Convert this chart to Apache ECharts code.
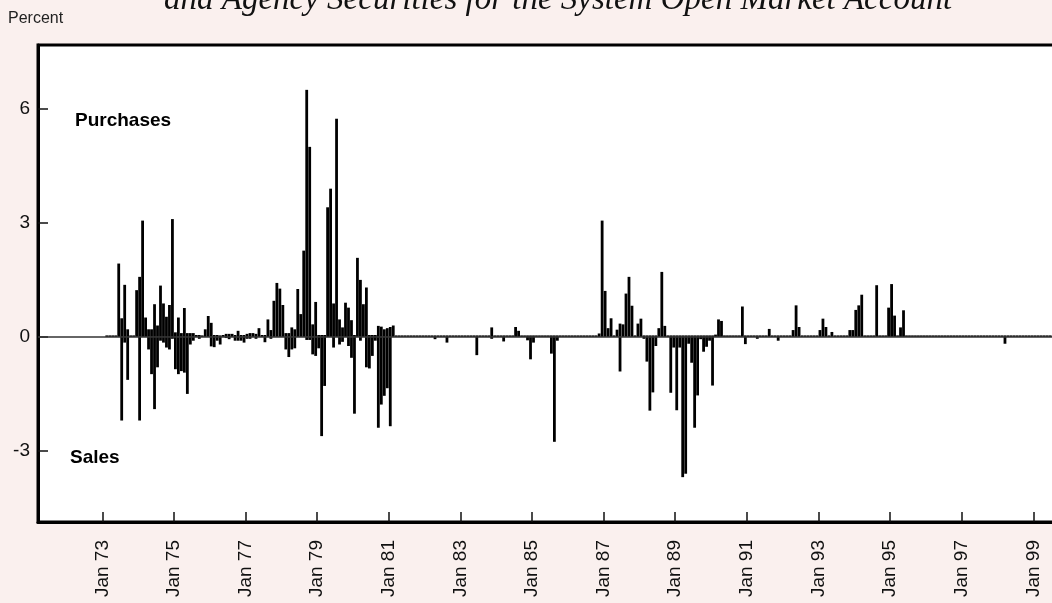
<!DOCTYPE html>
<html>
<head>
<meta charset="utf-8">
<style>
  html, body { margin: 0; padding: 0; background: #faf0ee; }
  #chart { width: 1052px; height: 603px; }
</style>
<script src="https://cdn.jsdelivr.net/npm/echarts@6/dist/echarts.min.js"></script>
</head>
<body>
<div id="chart"></div>
<script>
// monthly values, one row per year starting Jan 1973 (percent)
const startYear = 1973;

const purchases = [
  [0, .04, .04, .04, .04, 1.93, .49, 1.37, .2, .04, .04, 1.23],     // 1973
  [1.58, 3.06, .51, .2, .2, .86, .3, 1.35, .88, .53, .84, 3.1],     // 1974
  [.12, .51, .1, .76, .1, .1, .1, .05, .05, .04, .2, .55],          // 1975
  [.37, .05, .05, .04, .05, .08, .08, .08, .05, .16, .05, .05],     // 1976
  [.08, .1, .1, .08, .23, .05, .05, .46, .18, .95, 1.42, 1.27],     // 1977
  [.84, .1, .1, .25, .2, 1.26, .6, 2.27, 6.5, 5.0, .33, .92],       // 1978
  [.05, .05, .05, 3.41, 3.9, .88, 5.74, .46, .25, .9, .77, .44],    // 1979
  [.05, 2.08, 1.5, .86, 1.3, .05, .05, .05, .29, .27, .2, .23],     // 1980
  [.26, .3, .04, .04, .04, .04, .04, .04, .04, .04, .04, .04],      // 1981
  [.04, .04, .04, .04, .04, .04, .04, .04, .04, .04, .04, .04],     // 1982
  [.04, .04, .04, .04, .04, .04, .04, .04, .04, .04, .25, .04],     // 1983
  [.04, .04, .04, .04, .04, .04, .26, .16, .04, .04, .04, .04],     // 1984
  [.04, .04, .04, .04, .04, .04, .04, .04, .04, .04, .04, .04],     // 1985
  [.04, .04, .04, .04, .04, .04, .04, .04, .04, .04, .09, 3.06],    // 1986
  [1.21, .23, .49, .04, .19, .35, .33, 1.14, 1.58, .82, .04, .35],  // 1987
  [.48, .04, .04, .04, .04, .04, .23, 1.71, .29, .04, .04, .04],    // 1988
  [.04, .04, .04, .04, .04, .04, .04, .04, .04, .04, .04, .04],     // 1989
  [.04, .06, .46, .42, .04, .04, .04, .04, .04, .04, .8, .04],      // 1990
  [.04, .04, .04, .04, .04, .04, .04, .21, .04, .04, .04, .04],     // 1991
  [.04, .04, .04, .18, .83, .26, .04, .04, .04, .04, .04, .04],     // 1992
  [.18, .48, .26, .04, .13, .04, .04, .04, .04, .04, .18, .18],     // 1993
  [.71, .83, 1.11, .04, .04, .04, .04, 1.36, .04, .04, .04, .77],   // 1994
  [1.39, .56, .04, .25, .7, .04, .04, .04, .04, .04, .04, .04],     // 1995
  [.04, .04, .04, .04, .04, .04, .04, .04, .04, .04, .04, .04],     // 1996
  [.04, .04, .04, .04, .04, .04, .04, .04, .04, .04, .04, .04],     // 1997
  [.04, .04, .04, .04, .04, .04, .04, .04, .04, .04, .04, .04],     // 1998
  [.04, .04, .04, .04, .04, .04, .04, .04]                          // 1999
];

const sales = [
  [0, 0, 0, 0, 0, 0, -2.2, -.15, -1.13, 0, 0, 0],                    // 1973
  [-2.2, 0, 0, -.33, -.98, -1.9, -.8, -.1, -.15, -.28, -.33, -.05],  // 1974
  [-.85, -.98, -.9, -.94, -1.5, -.2, -.1, 0, -.05, 0, 0, 0],         // 1975
  [-.25, -.27, -.1, -.2, 0, -.03, -.06, 0, -.1, -.1, -.1, -.15],     // 1976
  [-.05, -.05, 0, -.05, 0, 0, -.14, 0, -.05, 0, 0, 0],               // 1977
  [0, -.33, -.53, -.33, -.3, 0, 0, 0, -.08, -.08, -.46, -.5],        // 1978
  [-.3, -2.61, -1.29, 0, 0, -.28, 0, -.2, -.13, 0, -.24, -.55],      // 1979
  [-2.02, 0, -.1, 0, -.8, -.83, -.5, -.1, -2.39, -1.78, -1.55, -1.35], // 1980
  [-2.35, 0, 0, 0, 0, 0, 0, 0, 0, 0, 0, 0],                          // 1981
  [0, 0, 0, -.06, 0, 0, 0, -.15, 0, 0, 0, 0],                        // 1982
  [0, 0, 0, 0, 0, -.48, 0, 0, 0, 0, -.05, 0],                        // 1983
  [0, 0, -.12, 0, 0, 0, 0, 0, 0, 0, -.09, -.59],                     // 1984
  [-.15, 0, 0, 0, 0, 0, -.44, -2.76, -.1, 0, 0, 0],                  // 1985
  [0, 0, 0, 0, 0, 0, 0, 0, 0, 0, 0, 0],                              // 1986
  [0, 0, 0, 0, 0, -.91, 0, 0, 0, 0, 0, 0],                           // 1987
  [0, -.05, -.65, -1.94, -1.46, -.24, 0, 0, 0, 0, -1.47, -.28],      // 1988
  [-1.93, -.28, -3.69, -3.6, -.18, -.68, -2.39, -1.54, -.06, -.39, -.26, -.1], // 1989
  [-1.28, 0, 0, 0, 0, 0, 0, 0, 0, 0, 0, -.19],                       // 1990
  [0, 0, 0, -.05, 0, 0, 0, 0, 0, 0, -.1, 0],                         // 1991
  [0, 0, 0, 0, 0, 0, 0, 0, 0, 0, 0, 0],                              // 1992
  [0, 0, 0, 0, 0, 0, 0, 0, 0, 0, 0, 0],                              // 1993
  [0, 0, 0, 0, 0, 0, 0, 0, 0, 0, 0, 0],                              // 1994
  [0, 0, 0, 0, 0, 0, 0, 0, 0, 0, 0, 0],                              // 1995
  [0, 0, 0, 0, 0, 0, 0, 0, 0, 0, 0, 0],                              // 1996
  [0, 0, 0, 0, 0, 0, 0, 0, 0, 0, 0, 0],                              // 1997
  [0, 0, -.18, 0, 0, 0, 0, 0, 0, 0, 0, 0],                           // 1998
  [0, 0, 0, 0, 0, 0, 0, 0]                                           // 1999
];

const yTicks = [-3, 0, 3, 6];
const xTickYears = [1973, 1975, 1977, 1979, 1981, 1983, 1985, 1987, 1989, 1991, 1993, 1995, 1997, 1999];

// x = months since Jan 1973, bar drawn in the middle of its month
const toPoints = rows =>
  rows.flatMap((row, y) => row.map((v, i) => [y * 12 + i + 0.5, v]));

const xTicks = xTickYears.map(y => (y - startYear) * 12);

const chart = echarts.init(document.getElementById("chart"));

// plot runs past the right edge of the page, so its right border is not seen
chart.setOption({
  backgroundColor: "#faf0ee",
  animation: false,
  textStyle: { fontFamily: "Liberation Sans, Arial, sans-serif" },
  grid: {
    left: 38,
    width: 1020,
    top: 45,
    bottom: 81,
    outerBoundsMode: "none",
    containLabel: false,
    show: true,
    backgroundColor: "#fff",
    borderColor: "#000",
    borderWidth: 3,
  },
  graphic: [
    {
      type: "text",
      left: 164,
      top: -16,
      style: {
        text: "and Agency Securities for the System Open Market Account",
        font: 'italic 33px "Liberation Serif", serif',
        fill: "#111",
      },
    },
    {
      type: "text",
      left: 8,
      top: 11,
      style: { text: "Percent", font: '16px "Liberation Sans", sans-serif', fill: "#222" },
    },
    {
      type: "text",
      left: 75,
      top: 111,
      style: { text: "Purchases", font: 'bold 19px "Liberation Sans", sans-serif', fill: "#000" },
    },
    {
      type: "text",
      left: 70,
      top: 448,
      style: { text: "Sales", font: 'bold 19px "Liberation Sans", sans-serif', fill: "#000" },
    },
  ],
  xAxis: {
    type: "value",
    min: -21.55,
    max: 320.27,
    splitLine: { show: false },
    axisLine: { onZero: false, lineStyle: { color: "#000", width: 3 } },
    axisTick: {
      inside: true,
      length: 10,
      customValues: xTicks,
      lineStyle: { color: "#111", width: 1.5 },
    },
    axisLabel: {
      customValues: xTicks,
      rotate: 90,
      margin: 18,
      fontSize: 19,
      color: "#111",
      formatter: (v) => "Jan " + String(startYear + v / 12).slice(2),
    },
  },
  yAxis: {
    type: "value",
    min: -4.87,
    max: 7.68,
    splitLine: { show: false },
    axisLine: { show: true, onZero: false, lineStyle: { color: "#000", width: 3 } },
    axisTick: {
      inside: true,
      length: 10,
      customValues: yTicks,
      lineStyle: { color: "#111", width: 1.5 },
    },
    axisLabel: {
      customValues: yTicks,
      margin: 8,
      fontSize: 19,
      color: "#111",
    },
  },
  series: [
    {
      name: "Purchases",
      type: "bar",
      stack: "ops",
      barWidth: 2.8,
      data: toPoints(purchases),
      itemStyle: { color: "#000" },
      markLine: {
        silent: true,
        symbol: "none",
        label: { show: false },
        lineStyle: { color: "#333", width: 1.5, type: "solid" },
        data: [{ yAxis: 0 }],
      },
    },
    {
      name: "Sales",
      type: "bar",
      stack: "ops",
      barWidth: 2.8,
      data: toPoints(sales),
      itemStyle: { color: "#000" },
    },
  ],
});
</script>
</body>
</html>
